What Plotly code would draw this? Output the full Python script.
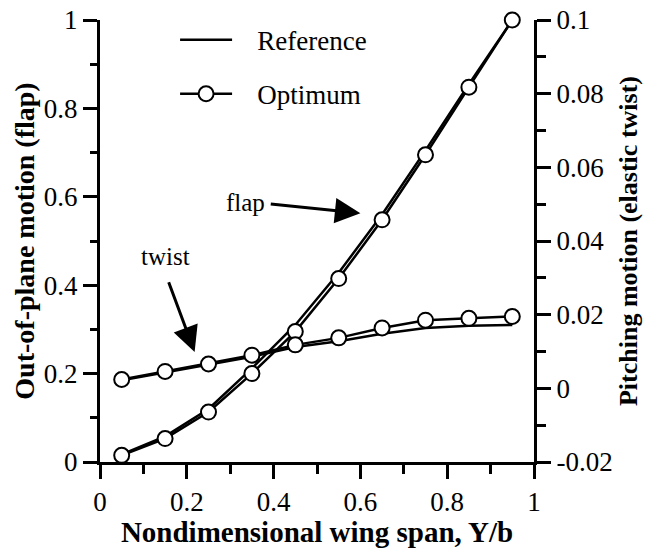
import plotly.graph_objects as go

# Spanwise stations (nondimensional span Y/b)
span = [0.05, 0.15, 0.25, 0.35, 0.45, 0.55, 0.65, 0.75, 0.85, 0.95]

# Out-of-plane (flap) mode shape, left axis
flap_reference = [0.017, 0.058, 0.120, 0.212, 0.310, 0.428, 0.560, 0.705, 0.855, 1.000]
flap_optimum = [0.015, 0.053, 0.113, 0.200, 0.295, 0.415, 0.548, 0.695, 0.848, 1.000]

# Pitching (elastic twist) mode shape, right axis
twist_reference = [0.0022, 0.0044, 0.0064, 0.0086, 0.0112, 0.0128, 0.0148, 0.0164, 0.0170, 0.0172]
twist_optimum = [0.0024, 0.0046, 0.0066, 0.0090, 0.0118, 0.0137, 0.0164, 0.0185, 0.0190, 0.0195]

left_ticks = [0, 0.2, 0.4, 0.6, 0.8, 1]
left_labels = ["0", "0.2", "0.4", "0.6", "0.8", "1"]
right_ticks = [-0.02, 0, 0.02, 0.04, 0.06, 0.08, 0.1]
right_labels = ["-0.02", "0", "0.02", "0.04", "0.06", "0.08", "0.1"]
x_ticks = [0, 0.2, 0.4, 0.6, 0.8, 1]
x_labels = ["0", "0.2", "0.4", "0.6", "0.8", "1"]

SERIF = "Liberation Serif"
INK = "black"
NBSP = "\u00a0"

line_style = dict(color=INK, width=2.5)
marker_style = dict(symbol="circle", size=15, color="white", line=dict(color=INK, width=2))

fig = go.Figure()

fig.add_trace(go.Scatter(x=span, y=flap_reference, mode="lines", line=line_style,
                         name=NBSP * 3 + "Reference", legendgroup="ref", showlegend=True,
                         cliponaxis=False))
fig.add_trace(go.Scatter(x=span, y=flap_optimum, mode="lines+markers", line=line_style,
                         marker=marker_style, name=NBSP * 3 + "Optimum",
                         legendgroup="opt", showlegend=True, cliponaxis=False))
fig.add_trace(go.Scatter(x=span, y=twist_reference, mode="lines", line=line_style,
                         yaxis="y2", showlegend=False, cliponaxis=False))
fig.add_trace(go.Scatter(x=span, y=twist_optimum, mode="lines+markers", line=line_style,
                         marker=marker_style, yaxis="y2", showlegend=False, cliponaxis=False))

axis_common = dict(
    showline=True, linecolor=INK, linewidth=3,
    ticks="outside", ticklen=14, tickwidth=3, tickcolor=INK,
    showgrid=False, zeroline=False,
    tickfont=dict(family=SERIF, size=27, color=INK),
)


def title_font(size):
    return dict(family=SERIF, size=size, color=INK, weight="bold")


fig.update_layout(
    width=646, height=548,
    margin=dict(l=100, r=112, t=20, b=86, autoexpand=False),
    paper_bgcolor="white", plot_bgcolor="white",
    showlegend=True,
    legend=dict(
        x=0.173, y=1.01, xanchor="left", yanchor="top",
        bgcolor="rgba(0,0,0,0)", borderwidth=0,
        font=dict(family=SERIF, size=27, color=INK),
        itemwidth=52, tracegroupgap=16,
    ),
    xaxis=dict(
        range=[0, 1], tickvals=x_ticks, ticktext=x_labels,
        minor=dict(dtick=0.1, ticks="outside", ticklen=9, tickwidth=3, tickcolor=INK),
        title=dict(text="Nondimensional wing span, Y/b", font=title_font(29), standoff=4),
        **axis_common,
    ),
    yaxis=dict(
        range=[0, 1], tickvals=left_ticks, ticktext=left_labels,
        minor=dict(dtick=0.1, ticks="outside", ticklen=7, tickwidth=3, tickcolor=INK),
        title=dict(text="Out-of-plane motion (flap)", font=title_font(28), standoff=2),
        **axis_common,
    ),
    yaxis2=dict(
        range=[-0.02, 0.1], tickvals=right_ticks, ticktext=right_labels,
        overlaying="y", side="right",
        minor=dict(dtick=0.01, ticks="outside", ticklen=9, tickwidth=3, tickcolor=INK),
        title=dict(text="Pitching motion (elastic twist)", font=title_font(26), standoff=8),
        **axis_common,
    ),
)

arrow_common = dict(
    xref="x", yref="y", axref="x", ayref="y",
    showarrow=True, arrowhead=2, arrowsize=1.7, arrowwidth=3, arrowcolor=INK,
    text="",
)
label_font = dict(family=SERIF, size=25, color=INK)
# "flap" callout
fig.add_annotation(x=0.60, y=0.563, ax=0.39, ay=0.584, **arrow_common)
fig.add_annotation(x=0.385, y=0.587, text="flap", showarrow=False, xanchor="right",
                   xref="x", yref="y", font=label_font)
# "twist" callout
fig.add_annotation(x=0.218, y=0.249, ax=0.157, ay=0.410, **arrow_common)
fig.add_annotation(x=0.15, y=0.466, text="twist", showarrow=False,
                   xref="x", yref="y", font=label_font)

fig.write_html("out.html")
